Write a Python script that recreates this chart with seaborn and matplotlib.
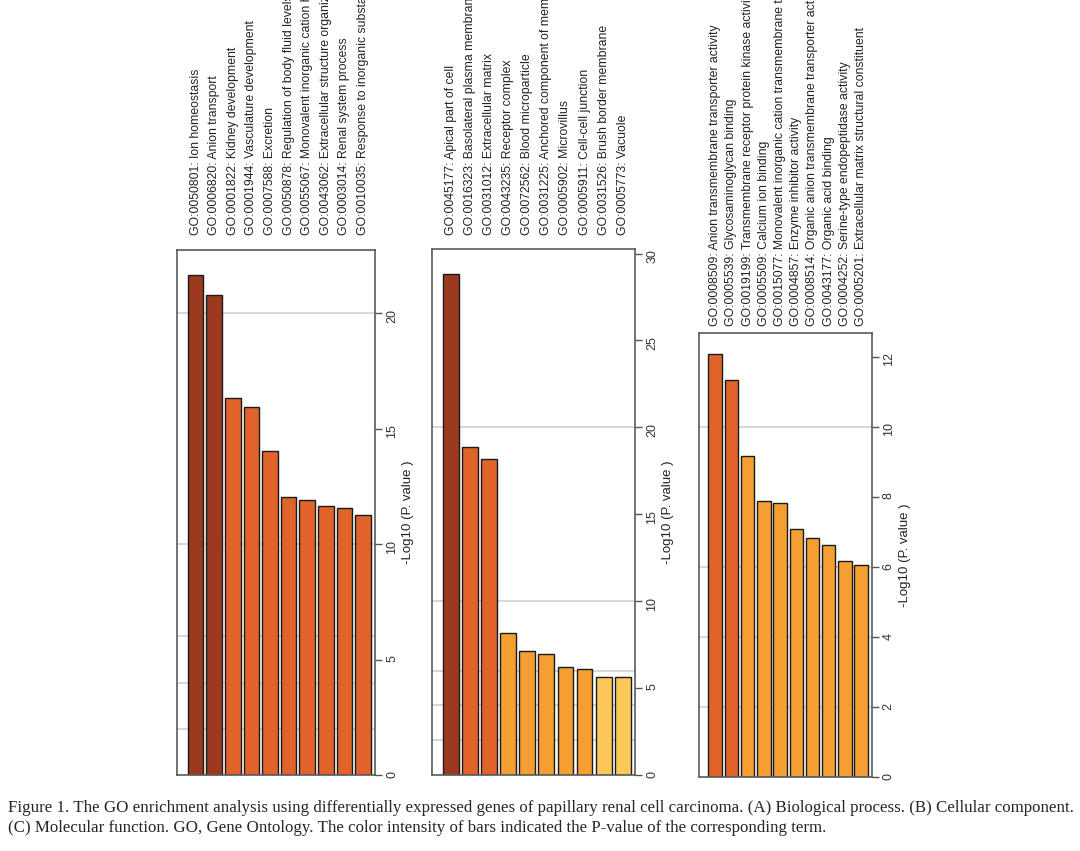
import matplotlib
matplotlib.use("Agg")
import matplotlib.pyplot as plt
import pandas as pd
import seaborn as sns

# (A) Biological process
bp_terms = [
    "GO:0050801: Ion homeostasis",
    "GO:0006820: Anion transport",
    "GO:0001822: Kidney development",
    "GO:0001944: Vasculature development",
    "GO:0007588: Excretion",
    "GO:0050878: Regulation of body fluid levels",
    "GO:0055067: Monovalent inorganic cation homeostasis",
    "GO:0043062: Extracellular structure organization",
    "GO:0003014: Renal system process",
    "GO:0010035: Response to inorganic substance",
]
bp_values = [21.65, 20.78, 16.31, 15.94, 14.04, 12.05, 11.90, 11.65, 11.56, 11.24]
bp_levels = [3, 3, 2, 2, 2, 2, 2, 2, 2, 2]

# (B) Cellular component
cc_terms = [
    "GO:0045177: Apical part of cell",
    "GO:0016323: Basolateral plasma membrane",
    "GO:0031012: Extracellular matrix",
    "GO:0043235: Receptor complex",
    "GO:0072562: Blood microparticle",
    "GO:0031225: Anchored component of membrane",
    "GO:0005902: Microvillus",
    "GO:0005911: Cell-cell junction",
    "GO:0031526: Brush border membrane",
    "GO:0005773: Vacuole",
]
cc_values = [28.80, 18.85, 18.20, 8.17, 7.12, 6.94, 6.23, 6.07, 5.63, 5.63]
cc_levels = [3, 2, 2, 1, 1, 1, 1, 1, 0, 0]

# (C) Molecular function
mf_terms = [
    "GO:0008509: Anion transmembrane transporter activity",
    "GO:0005539: Glycosaminoglycan binding",
    "GO:0019199: Transmembrane receptor protein kinase activity",
    "GO:0005509: Calcium ion binding",
    "GO:0015077: Monovalent inorganic cation transmembrane transporter activity",
    "GO:0004857: Enzyme inhibitor activity",
    "GO:0008514: Organic anion transmembrane transporter activity",
    "GO:0043177: Organic acid binding",
    "GO:0004252: Serine-type endopeptidase activity",
    "GO:0005201: Extracellular matrix structural constituent",
]
mf_values = [12.07, 11.35, 9.18, 7.89, 7.83, 7.08, 6.83, 6.63, 6.18, 6.05]
mf_levels = [2, 2, 1, 1, 1, 1, 1, 1, 1, 1]

level_colors = {0: "#FCC85B", 1: "#F59E31", 2: "#E0632A", 3: "#9C3A1F"}

caption = ("Figure 1. The GO enrichment analysis using differentially expressed genes of papillary renal cell carcinoma. "
           "(A) Biological process. (B) Cellular component.\n"
           "(C) Molecular function. GO, Gene Ontology. The color intensity of bars indicated the P-value of the corresponding term.")

sns.set_style("white")
plt.rcParams["font.family"] = ["Liberation Sans", "DejaVu Sans"]

fig = plt.figure(figsize=(10.8, 8.51), dpi=100)

panels = [
    (bp_terms, bp_values, bp_levels, [0, 5, 10, 15, 20], [0.1642, 0.0893, 0.1831, 0.6169], 7),
    (cc_terms, cc_values, cc_levels, [0, 5, 10, 15, 20, 25, 30], [0.4003, 0.0893, 0.1877, 0.6177], 7),
    (mf_terms, mf_values, mf_levels, [0, 2, 4, 6, 8, 10, 12], [0.6475, 0.0866, 0.1596, 0.5217], 2),
]

for terms, values, levels, ticks, rect, gap in panels:
    ax = fig.add_axes(rect)
    df = pd.DataFrame({"term": terms, "value": values, "level": levels})
    top = max(values) * 1.05
    for g in [2, 4, 6, 10, 20]:
        if g < top:
            ax.axhline(g, color="#d4d4d4", lw=1.3, zorder=0)
    sns.barplot(data=df, x="term", y="value", hue="level", palette=level_colors,
                saturation=1, legend=False, width=0.833, edgecolor="#1a1a1a",
                linewidth=1.0, ax=ax, zorder=2)
    ax.set_xlim(-0.983, len(terms) - 0.35)
    ax.set_ylim(0, top)
    ax.set_yticks(ticks)
    ax.yaxis.tick_right()
    ax.yaxis.set_label_position("right")
    ax.tick_params(axis="y", right=True, left=False, length=5, width=1, color="#555555",
                   labelrotation=90, labelsize=9, labelcolor="#333333", pad=3)
    ax.xaxis.tick_top()
    ax.tick_params(axis="x", top=False, bottom=False, labeltop=True, labelbottom=False,
                   labelrotation=90, labelsize=8.8, labelcolor="#222222", pad=gap)
    ax.set_xlabel("")
    ax.set_ylabel("-Log10 (P. value )", fontsize=9.5, color="#222222", labelpad=3)
    for s in ax.spines.values():
        s.set_color("#5a5a5a")
        s.set_linewidth(1.2)

fig.text(0.0074, 0.0223, caption, fontsize=12.2, family=["Liberation Serif", "DejaVu Serif"],
         va="baseline", ha="left", linespacing=1.3)

fig.savefig("out.png", dpi=100)
